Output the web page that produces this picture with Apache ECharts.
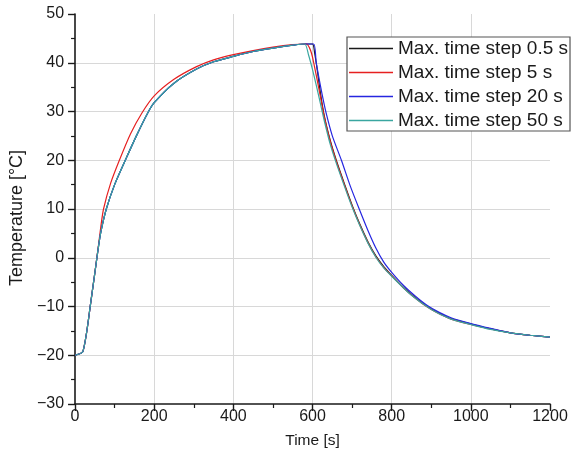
<!DOCTYPE html>
<html>
<head>
<meta charset="utf-8">
<script src="https://cdn.jsdelivr.net/npm/echarts@6/dist/echarts.min.js"></script>
<style>
  html, body { margin: 0; padding: 0; background: #fff; }
  #chart { width: 572px; height: 458px; }
</style>
</head>
<body>
<div id="chart"></div>
<script>
// Temperature history of a heating / cooling cycle computed with four maximum solver time steps.
const seriesNames = ['Max. time step 0.5 s', 'Max. time step 5 s', 'Max. time step 20 s', 'Max. time step 50 s'];
const seriesColors = ['#1a1a1a', '#e62020', '#2626e0', '#3aa6a0'];

// Max. time step 0.5 s
const step05Time = [0, 20, 40, 58, 65, 79, 100, 127, 155, 183, 200, 250, 307, 350, 400, 450, 500, 550, 580, 600,
  605, 612, 620, 630, 645, 660, 680, 700, 720, 740, 760, 780, 800, 830, 860, 890, 920, 950, 1000, 1050, 1100, 1150, 1200];
const step05Temp = [-20, -19.2, -9, 1.6, 5.2, 10, 15, 20, 25, 29.6, 31.8, 35.8, 38.7, 40.2, 41.3, 42.3, 43.0, 43.6, 43.85, 43.85,
  42.2, 38.5, 33.8, 29.0, 24.0, 20.0, 15.3, 10.8, 6.8, 3.3, 0.4, -1.8, -3.6, -6.1, -8.2, -10.0, -11.4, -12.5, -13.6, -14.6, -15.4, -15.9, -16.3];

// Max. time step 5 s
const step5Time = [0, 20, 40, 58, 65, 72, 90, 112, 140, 169, 200, 250, 307, 350, 400, 450, 500, 550, 585,
  592, 598, 603, 610, 620, 630, 645, 660, 680, 700, 720, 740, 760, 780, 800, 830, 860, 890, 920, 950, 1000, 1050, 1100, 1150, 1200];
const step5Temp = [-20, -19.2, -9, 1.8, 6.3, 10, 15.3, 20, 25.4, 29.7, 33.2, 36.6, 39.2, 40.6, 41.65, 42.5, 43.2, 43.7, 43.85,
  43.1, 41.8, 40.0, 37.2, 33.0, 28.8, 23.8, 19.8, 15.1, 10.6, 6.6, 3.1, 0.2, -2.0, -3.7, -6.2, -8.3, -10.1, -11.5, -12.6, -13.7, -14.6, -15.4, -15.9, -16.3];

// Max. time step 20 s
const step20Time = [0, 20, 40, 58, 65, 79, 100, 127, 155, 183, 200, 250, 307, 350, 400, 450, 500, 550, 580, 603,
  609, 616, 624, 634, 650, 673, 695, 718, 740, 760, 780, 800, 830, 860, 890, 920, 950, 1000, 1050, 1100, 1150, 1200];
const step20Temp = [-20, -19.2, -9, 1.6, 5.2, 10, 15, 20, 25, 29.6, 31.8, 35.8, 38.7, 40.2, 41.3, 42.3, 43.0, 43.6, 43.85, 43.85,
  40.3, 37.0, 33.6, 29.8, 25.0, 20.0, 14.8, 10.0, 5.6, 2.0, -0.9, -3.0, -5.7, -7.9, -9.8, -11.2, -12.3, -13.5, -14.5, -15.4, -15.9, -16.3];

// Max. time step 50 s
const step50Time = [0, 20, 40, 58, 65, 79, 100, 127, 155, 183, 200, 250, 307, 350, 400, 450, 500, 550, 580,
  590, 600, 610, 620, 630, 645, 660, 680, 700, 720, 740, 760, 780, 800, 850, 900, 950, 1000, 1050, 1100, 1150, 1200];
const step50Temp = [-20, -19.2, -9, 1.6, 5.2, 10, 15, 20, 25, 29.6, 31.8, 35.8, 38.7, 40.2, 41.3, 42.3, 43.0, 43.6, 43.85,
  41.6, 38.6, 35.2, 31.6, 28.0, 23.2, 19.4, 14.8, 10.4, 6.5, 3.0, 0.1, -2.1, -3.8, -7.7, -10.6, -12.6, -13.7, -14.7, -15.4, -15.9, -16.3];

// Axis ranges and tick spacing
const xTicks = { min: 0, max: 1200, interval: 200 };
const yTicks = { min: -30, max: 50, interval: 10 };

const FONT = '"Liberation Sans", Arial, Helvetica, sans-serif';
const zip = (t, v) => t.map((x, i) => [x, v[i]]);
const curves = [
  zip(step05Time, step05Temp),
  zip(step5Time, step5Temp),
  zip(step20Time, step20Temp),
  zip(step50Time, step50Temp)
];

// plain numbers, typographic minus sign
const tickText = v => String(v).replace('-', '\u2212');

const axisCommon = {
  axisLine: { show: true, onZero: false, lineStyle: { color: '#1a1a1a', width: 1.6 } },
  axisTick: { show: true, inside: false, length: 7, lineStyle: { color: '#1a1a1a', width: 1.4 } },
  minorTick: { show: true, splitNumber: 2, length: 4, lineStyle: { color: '#1a1a1a', width: 1.2 } },
  splitLine: { show: true, showMinLine: false, showMaxLine: false, lineStyle: { color: '#d8d8d8', width: 1 } },
  axisLabel: { color: '#1a1a1a', fontSize: 16, fontFamily: FONT, formatter: tickText }
};

const chart = echarts.init(document.getElementById('chart'), null, { renderer: 'canvas' });
chart.setOption({
  animation: false,
  backgroundColor: '#ffffff',
  grid: { left: 73, right: 22, top: 14, bottom: 54, containLabel: false },
  xAxis: Object.assign({}, axisCommon, {
    type: 'value',
    min: xTicks.min, max: xTicks.max, interval: xTicks.interval,
    name: 'Time [s]',
    nameLocation: 'middle',
    nameGap: 29,
    nameTextStyle: { color: '#1a1a1a', fontSize: 15.5, fontFamily: FONT },
    axisLabel: Object.assign({}, axisCommon.axisLabel, { margin: 5 })
  }),
  yAxis: Object.assign({}, axisCommon, {
    type: 'value',
    min: yTicks.min, max: yTicks.max, interval: yTicks.interval,
    name: 'Temperature [°C]',
    nameLocation: 'middle',
    nameGap: 42,
    nameTextStyle: { color: '#1a1a1a', fontSize: 18, fontFamily: FONT, padding: [0, 18, 0, 0] },
    axisLabel: Object.assign({}, axisCommon.axisLabel, { margin: 11 })
  }),
  legend: {
    orient: 'vertical',
    left: 347, top: 37,
    icon: 'rect',
    itemWidth: 44, itemHeight: 1.3, itemGap: 5,
    padding: [2, 2, 1, 2],
    borderColor: '#555555', borderWidth: 1.2,
    backgroundColor: '#ffffff',
    textStyle: { color: '#1a1a1a', fontSize: 19, fontFamily: FONT, lineHeight: 19 },
    data: seriesNames
  },
  series: curves.map((data, i) => ({
    name: seriesNames[i],
    type: 'line',
    data: data,
    symbol: 'none',
    smooth: 0.25,
    lineStyle: { color: seriesColors[i], width: 1.2 },
    itemStyle: { color: seriesColors[i] }
  }))
});
</script>
</body>
</html>
